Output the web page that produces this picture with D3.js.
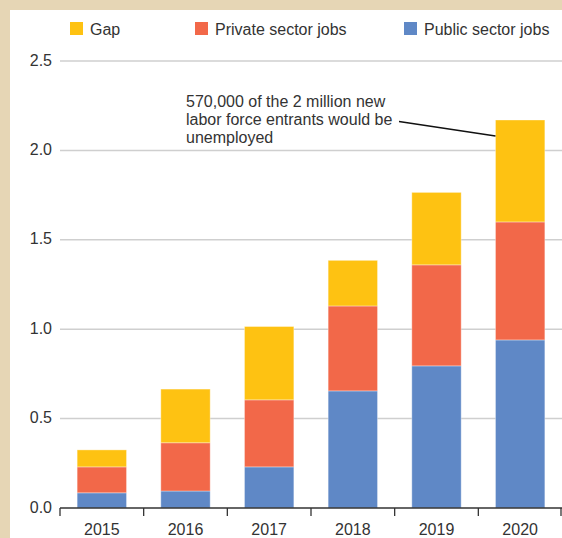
<!DOCTYPE html>
<html>
<head>
<meta charset="utf-8">
<script src="https://cdn.jsdelivr.net/npm/d3@7"></script>
<style>
  html, body { margin: 0; padding: 0; background: #e6d6b5; }
  svg { display: block; }
  text { font-family: "Liberation Sans", Arial, sans-serif; fill: #333; }
</style>
</head>
<body>
<script>
// Job creation vs. labor force entrants, millions
const years = ["2015", "2016", "2017", "2018", "2019", "2020"];
const publicJobs  = [0.085, 0.095, 0.23, 0.655, 0.795, 0.94];
const privateJobs = [0.145, 0.27, 0.375, 0.475, 0.565, 0.66];
const gap         = [0.095, 0.30, 0.41, 0.255, 0.405, 0.57];
const yTicks = [0, 0.5, 1.0, 1.5, 2.0, 2.5];
const seriesNames = ["Public sector jobs", "Private sector jobs", "Gap"];
const seriesColors = ["#5f88c6", "#f26849", "#fec212"];
const note = ["570,000 of the 2 million new", "labor force entrants would be", "unemployed"];

const W = 562, H = 538;
const margin = { left: 60, right: 0, top: 61, bottom: 30 };
const fs = 16;

const svg = d3.select("body").append("svg").attr("width", W).attr("height", H);

// white panel inside the beige frame
svg.append("rect").attr("x", 10).attr("y", 10).attr("width", W - 10).attr("height", H - 10).attr("fill", "#fff");

const x = d3.scaleBand().domain(years).range([margin.left, W - margin.right])
  .paddingInner(0.41).paddingOuter(0.205);
const y = d3.scaleLinear().domain([0, 2.5]).range([508, margin.top]);

// gridlines
svg.append("g").selectAll("line").data(yTicks.filter(d => d > 0)).join("line")
  .attr("x1", margin.left).attr("x2", W - margin.right)
  .attr("y1", d => y(d)).attr("y2", d => y(d))
  .attr("stroke", "#cfcfcf").attr("stroke-width", 1.5);

// y labels
svg.append("g").selectAll("text").data(yTicks).join("text")
  .attr("x", 52).attr("y", d => y(d) + 4.5)
  .attr("text-anchor", "end").attr("font-size", fs)
  .text(d => d3.format(".1f")(d));

// stacked bars
const rows = years.map((yr, i) => ({ year: yr, pub: publicJobs[i], priv: privateJobs[i], gap: gap[i] }));
const stack = d3.stack().keys(["pub", "priv", "gap"])(rows);
svg.append("g").selectAll("g").data(stack).join("g")
  .attr("fill", (d, i) => seriesColors[i])
  .selectAll("rect").data(d => d).join("rect")
  .attr("x", d => x(d.data.year))
  .attr("width", x.bandwidth())
  .attr("y", d => y(d[1]))
  .attr("height", d => y(d[0]) - y(d[1]))
  .attr("stroke", "rgba(255,255,255,0.35)").attr("stroke-width", 1);

// x axis with ticks at the band boundaries
const xa = svg.append("g");
xa.append("line").attr("x1", margin.left).attr("x2", W - margin.right)
  .attr("y1", y(0)).attr("y2", y(0)).attr("stroke", "#333").attr("stroke-width", 1.3);
const step = x.step();
const bounds = years.map(d => x(d) - x.paddingInner() * step / 2);
bounds[0] = margin.left;
bounds.push(W - margin.right - 1);
xa.selectAll("line.tick").data(bounds).join("line").attr("class", "tick")
  .attr("x1", d => d).attr("x2", d => d)
  .attr("y1", y(0)).attr("y2", y(0) + 8).attr("stroke", "#333").attr("stroke-width", 1.3);
xa.selectAll("text").data(years).join("text")
  .attr("x", d => x(d) + x.bandwidth() / 2).attr("y", 535)
  .attr("text-anchor", "middle").attr("font-size", fs).text(d => d);

// legend
const legendOrder = [2, 1, 0];
const legendX = [70, 195, 404];
const lg = svg.append("g").selectAll("g").data(legendOrder).join("g")
  .attr("transform", (d, i) => `translate(${legendX[i]},22)`);
lg.append("rect").attr("width", 13).attr("height", 13).attr("fill", d => seriesColors[d]);
lg.append("text").attr("x", 20).attr("y", 12.5).attr("font-size", fs)
  .text(d => seriesNames[d]);

// annotation for the 2020 gap
const ann = svg.append("g");
ann.selectAll("text").data(note).join("text")
  .attr("x", 186).attr("y", (d, i) => 107 + i * 18)
  .attr("font-size", fs).text(d => d);
ann.append("line")
  .attr("x1", 399).attr("y1", 121.5)
  .attr("x2", x("2020")).attr("y2", 136)
  .attr("stroke", "#111").attr("stroke-width", 1.3);
</script>
</body>
</html>
